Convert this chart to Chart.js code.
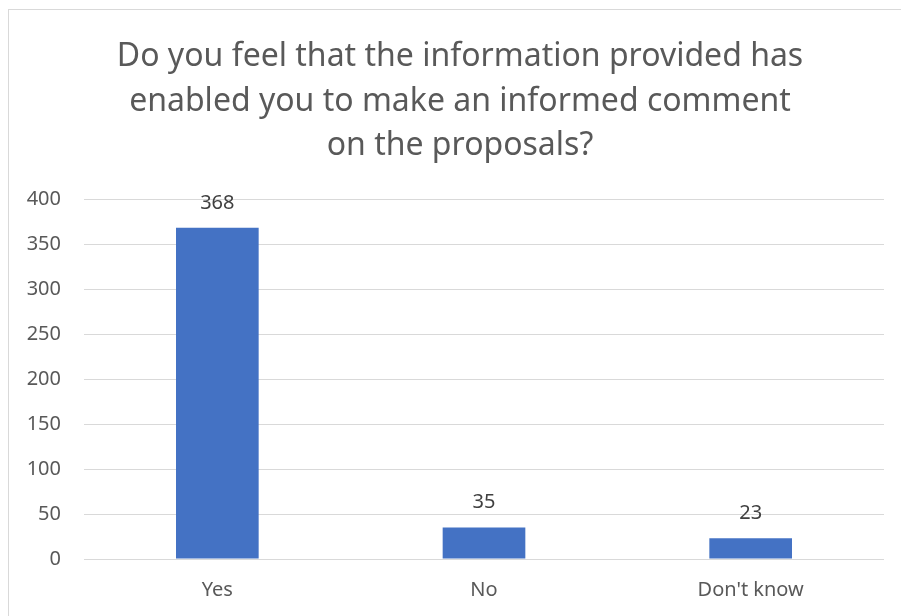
<!DOCTYPE html>
<html>
<head>
<meta charset="utf-8">
<script src="https://cdn.jsdelivr.net/npm/chart.js@4/dist/chart.umd.min.js"></script>
<style>
  html, body { margin: 0; padding: 0; background: #fff; }
  #wrap { width: 901px; height: 616px; }
</style>
</head>
<body>
<div id="wrap"><canvas id="surveyChart" width="901" height="616"></canvas></div>
<script>
// survey answers
const categories = ["Yes", "No", "Don't know"];
const responses = [368, 35, 23];
const titleLines = [
    "Do you feel that the information provided has",
    "enabled you to make an informed comment",
    "on the proposals?"
];

const fontFamily = "'Noto Sans', 'Open Sans', sans-serif";

// light frame plus the three-line heading
const framePlugin = {
    id: "frame",
    beforeDraw(chart) {
        const ctx = chart.ctx;
        ctx.save();
        ctx.strokeStyle = "#d9d9d9";
        ctx.lineWidth = 1;
        ctx.strokeRect(8.5, 9.5, chart.width + 20, chart.height + 20);

        ctx.font = "32px " + fontFamily;
        ctx.fillStyle = "#595959";
        ctx.textAlign = "center";
        ctx.textBaseline = "middle";
        titleLines.forEach((line, i) => {
            ctx.fillText(line, 460, 57 + i * 44.5);
        });
        ctx.restore();
    }
};

// value written above each bar
const valueLabels = {
    id: "valueLabels",
    afterDatasetsDraw(chart) {
        const ctx = chart.ctx;
        const meta = chart.getDatasetMeta(0);
        ctx.save();
        ctx.font = "20px " + fontFamily;
        ctx.fillStyle = "#404040";
        ctx.textAlign = "center";
        ctx.textBaseline = "middle";
        meta.data.forEach((bar, i) => {
            ctx.fillText(String(responses[i]), bar.x, bar.y - 25);
        });
        ctx.restore();
    }
};

new Chart(document.getElementById("surveyChart").getContext("2d"), {
    type: "bar",
    data: {
        labels: categories,
        datasets: [{
            data: responses,
            backgroundColor: "#4472c4",
            borderWidth: 0,
            categoryPercentage: 1,
            barPercentage: 0.31
        }]
    },
    options: {
        responsive: false,
        animation: false,
        layout: { padding: { left: 0, right: 17, top: 199, bottom: 0 } },
        plugins: {
            legend: { display: false },
            tooltip: { enabled: false },
            title: { display: false }
        },
        scales: {
            x: {
                afterFit(scale) { scale.height = 57; },
                grid: { display: false },
                border: { display: false },
                ticks: {
                    color: "#595959",
                    font: { family: fontFamily, size: 20 },
                    padding: 11
                }
            },
            y: {
                min: 0,
                max: 400,
                afterFit(scale) { scale.width = 84; },
                grid: { color: "#d9d9d9", lineWidth: 1, drawTicks: false },
                border: { display: false },
                ticks: {
                    stepSize: 50,
                    color: "#595959",
                    font: { family: fontFamily, size: 20 },
                    padding: 23
                }
            }
        }
    },
    plugins: [framePlugin, valueLabels]
});
</script>
</body>
</html>
